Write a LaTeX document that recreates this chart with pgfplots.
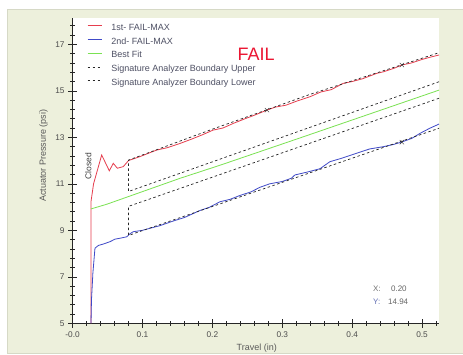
\documentclass[border=0pt]{standalone}
\usepackage{pgfplots}
\pgfplotsset{compat=1.18}
\usepackage{fontspec}
\setmainfont{Liberation Sans}
\definecolor{beige}{RGB}{237,240,220}
\definecolor{paneledge}{RGB}{214,217,198}
\definecolor{redline}{RGB}{230,62,78}
\definecolor{blueline}{RGB}{64,74,200}
\definecolor{greenline}{RGB}{122,226,82}
\definecolor{failred}{RGB}{235,22,50}
\definecolor{legtext}{RGB}{78,80,100}
\definecolor{yblue}{RGB}{100,112,180}
\newcommand{\lt}[1]{\textcolor{legtext}{#1}}
\begin{document}
\begin{tikzpicture}
\useasboundingbox (0,0) rectangle (463pt,355pt);
\fill[white] (0,0) rectangle (463pt,355pt);
\fill[beige, draw=paneledge] (7pt,2pt) rectangle (470pt,346pt);
\begin{axis}[
  at={(72.6pt,31.7pt)}, anchor=south west, scale only axis,
  width=366.4pt, height=305pt,
  xmin=0, xmax=0.5242, ymin=5, ymax=18.12,
  axis lines*=left,
  axis line style={black!85, line width=0.6pt},
  axis background/.style={fill=white},
  tick align=center, major tick length=9pt, minor tick length=5pt,
  every tick/.style={black!85, line width=0.6pt},
  xtick={0,0.1,0.2,0.3,0.4,0.5},
  xticklabels={-0.0,0.1,0.2,0.3,0.4,0.5},
  minor xtick={0.02,0.04,0.06,0.08,0.12,0.14,0.16,0.18,0.22,0.24,0.26,0.28,0.32,0.34,0.36,0.38,0.42,0.44,0.46,0.48,0.52},
  ytick={5,7,9,11,13,15,17},
  minor ytick={5.4,5.8,6.2,6.6,7.4,7.8,8.2,8.6,9.4,9.8,10.2,10.6,11.4,11.8,12.2,12.6,13.4,13.8,14.2,14.6,15.4,15.8,16.2,16.6,17.4,17.8},
  ticklabel style={font=\fontsize{8.3}{9}\selectfont, text=black!70},
  /pgf/number format/assume math mode=true,
  xlabel={Travel (in)}, ylabel={Actuator Pressure (psi)},
  label style={font=\fontsize{9}{10}\selectfont, text=black!65},
  xlabel style={at={(axis description cs:0.5025,-0.08)}, anchor=center},
  ylabel style={at={(axis description cs:-0.079,0.549)}, anchor=center},
  legend cell align=left,
  legend image code/.code={\draw[#1] (0pt,2.5pt) -- (14.4pt,2.5pt);},
  legend style={draw=none, fill=none, at={(0.04,0.984)}, anchor=north west,
    inner sep=0pt, outer sep=0pt, row sep=4.9pt,
    font=\fontsize{9}{10}\selectfont,
    nodes={inner sep=0pt, text height=7pt, text depth=2pt},
    /tikz/every odd column/.style={column sep=9pt}},
]
\addplot[redline, line width=0.8pt] coordinates {
(0.0263,5) (0.0263,10.23) (0.0300,11.0) (0.0416,12.24) (0.0525,11.56) (0.0582,11.88)
(0.0640,11.67) (0.0725,11.74) (0.0800,12.00) (0.0964,12.17) (0.1200,12.45)
(0.1350,12.55) (0.1540,12.74) (0.1700,12.92) (0.1850,13.10) (0.2010,13.31)
(0.2150,13.40) (0.2300,13.60) (0.2450,13.78) (0.2600,13.95) (0.2780,14.17)
(0.2900,14.30) (0.3050,14.38) (0.3200,14.55) (0.3400,14.75) (0.3550,14.95)
(0.3700,15.05) (0.3870,15.32) (0.4000,15.40) (0.4150,15.52) (0.4350,15.75)
(0.4450,15.82) (0.4600,15.97) (0.4710,16.11) (0.4850,16.20) (0.5000,16.35)
(0.5120,16.45) (0.5242,16.54)};
\addlegendentry{\lt{1st- FAIL-MAX}}
\addplot[blueline, line width=0.8pt] coordinates {
(0.0263,5) (0.0270,6.0) (0.0290,7.15) (0.0320,8.23) (0.0370,8.35) (0.0440,8.41)
(0.0535,8.51) (0.0607,8.62) (0.0680,8.66) (0.0774,8.72) (0.0820,8.85)
(0.0868,8.94) (0.1000,9.00) (0.1110,9.09) (0.1250,9.20) (0.1440,9.40)
(0.1600,9.55) (0.1820,9.85) (0.1950,9.98) (0.2110,10.23) (0.2250,10.33)
(0.2395,10.50) (0.2550,10.65) (0.2680,10.85) (0.2820,11.00) (0.3000,11.10)
(0.3130,11.24) (0.3180,11.38) (0.3350,11.50) (0.3540,11.65) (0.3680,11.95)
(0.3850,12.10) (0.4000,12.25) (0.4250,12.50) (0.4450,12.60) (0.4600,12.70)
(0.4710,12.80) (0.4850,12.95) (0.4970,13.17) (0.5110,13.39) (0.5242,13.57)};
\addlegendentry{\lt{2nd- FAIL-MAX}}
\addplot[greenline, line width=0.8pt] coordinates {
(0.0263,9.92) (0.0488,10.12) (0.1540,11.24) (0.2110,11.80) (0.3250,12.97) (0.5242,15.03)};
\addlegendentry{\lt{Best Fit}}
\addplot[black!85, line width=0.7pt, dash pattern=on 2.5pt off 2.5pt] coordinates {
(0.5242,15.39) (0.0800,10.67) (0.0800,12.02) (0.2000,13.35) (0.3400,14.85) (0.4710,16.12) (0.5242,16.64)};
\addlegendentry{\lt{Signature Analyzer Boundary Upper}}
\addplot[black!85, line width=0.7pt, dash pattern=on 2.5pt off 2.5pt] coordinates {
(0.5242,14.68) (0.0800,10.03) (0.0800,8.78) (0.5242,13.39)};
\addlegendentry{\lt{Signature Analyzer Boundary Lower}}
\addplot[only marks, mark=x, mark size=3pt, black!85, forget plot] coordinates {
(0.278,14.17) (0.471,16.11) (0.471,12.79)};
\node[inner sep=0pt, text=failred, font=\fontsize{18}{20}\selectfont] at (axis cs:0.2624,16.55) {FAIL};
\node[rotate=90, text=black!75, font=\fontsize{8.5}{9}\selectfont] at (axis cs:0.0225,11.77) {Closed};
\node[anchor=west, inner sep=0pt, text=black!55, font=\fontsize{8}{9}\selectfont] at (axis cs:0.4298,6.505) {X:};
\node[anchor=west, inner sep=0pt, text=black!60, font=\fontsize{8}{9}\selectfont] at (axis cs:0.4554,6.505) {0.20};
\node[anchor=west, inner sep=0pt, text=yblue, font=\fontsize{8}{9}\selectfont] at (axis cs:0.4298,5.93) {Y:};
\node[anchor=west, inner sep=0pt, text=black!60, font=\fontsize{8}{9}\selectfont] at (axis cs:0.4512,5.93) {14.94};
\end{axis}
\end{tikzpicture}
\end{document}
